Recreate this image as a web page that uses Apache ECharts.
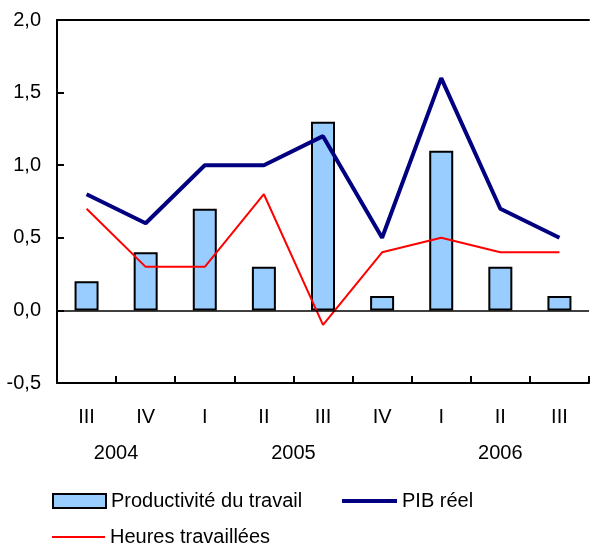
<!DOCTYPE html>
<html>
<head>
<meta charset="utf-8">
<script src="https://cdn.jsdelivr.net/npm/echarts@6/dist/echarts.min.js"></script>
<style>html,body{margin:0;padding:0;background:#fff;}#c{width:592px;height:543px;}</style>
</head>
<body>
<div id="c"></div>
<script>
const quarters = ['III','IV','I','II','III','IV','I','II','III'];
const yearSlots = ['','','2004','','','','','','2005','','','','','','','2006','','',''];
const productivite = [0.2, 0.4, 0.7, 0.3, 1.3, 0.1, 1.1, 0.3, 0.1];
const pibReel = [0.8, 0.6, 1.0, 1.0, 1.2, 0.5, 1.6, 0.7, 0.5];
const heures = [0.7, 0.3, 0.3, 0.8, -0.1, 0.4, 0.5, 0.4, 0.4];
const yTicks = {min: -0.5, max: 2.0, interval: 0.5};

const FONT = 'Liberation Sans, Arial, sans-serif';
const legendText = {fontSize: 20, color: '#000', fontFamily: FONT};
const chart = echarts.init(document.getElementById('c'), null, {renderer: 'canvas'});
chart.setOption({
  animation: false,
  backgroundColor: '#fff',
  textStyle: {fontFamily: FONT, color: '#000'},
  grid: {left: 57, top: 20, width: 540, height: 363},
  xAxis: [
    {type: 'category', data: quarters, position: 'bottom',
     axisLine: {onZero: false, lineStyle: {color: '#000', width: 2}},
     axisTick: {show: true, inside: true, length: 7, lineStyle: {color: '#000', width: 2}},
     axisLabel: {interval: 0, margin: 24, fontSize: 20, color: '#000', fontFamily: FONT},
     splitLine: {show: false}},
    {type: 'category', data: quarters, position: 'top',
     axisLine: {onZero: false, lineStyle: {color: '#000', width: 2}},
     axisTick: {show: false}, axisLabel: {show: false}, splitLine: {show: false}},
    {type: 'category', data: yearSlots, position: 'bottom', boundaryGap: false,
     axisLine: {show: false, onZero: false}, axisTick: {show: false},
     axisLabel: {interval: 0, margin: 60, fontSize: 20, color: '#000', fontFamily: FONT},
     splitLine: {show: false}}
  ],
  yAxis: {
    type: 'value', min: yTicks.min, max: yTicks.max, interval: yTicks.interval,
    axisLine: {show: true, onZero: false, lineStyle: {color: '#000', width: 2}},
    axisTick: {show: true, inside: true, length: 7, lineStyle: {color: '#000', width: 2}},
    axisLabel: {margin: 16, fontSize: 20, color: '#000', fontFamily: FONT,
      formatter: v => v.toFixed(1).replace('.', ',')},
    splitLine: {show: false}
  },
  legend: [
    {data: [{name: 'Productivité du travail', icon: 'rect'}], left: 47, top: 486,
     itemWidth: 53, itemHeight: 14, textStyle: legendText},
    {data: [{name: 'PIB réel', icon: 'rect'}], left: 337, top: 486,
     itemWidth: 55, itemHeight: 4, textStyle: legendText},
    {data: [{name: 'Heures travaillées', icon: 'rect'}], left: 47, top: 522,
     itemWidth: 53, itemHeight: 2, textStyle: legendText}
  ],
  series: [
    {name: 'Productivité du travail', type: 'bar', data: productivite, barWidth: 24,
     itemStyle: {color: '#99CCFF', borderColor: '#000', borderWidth: 2},
     markLine: {silent: true, symbol: 'none', label: {show: false},
       lineStyle: {color: '#000', width: 1.5, type: 'solid'}, data: [{yAxis: 0}]}},
    {name: 'PIB réel', type: 'line', data: pibReel, symbol: 'none',
     lineStyle: {color: '#000080', width: 4}, itemStyle: {color: '#000080'}},
    {name: 'Heures travaillées', type: 'line', data: heures, symbol: 'none',
     lineStyle: {color: '#FF0000', width: 2}, itemStyle: {color: '#FF0000'}}
  ]
});
</script>
</body>
</html>
